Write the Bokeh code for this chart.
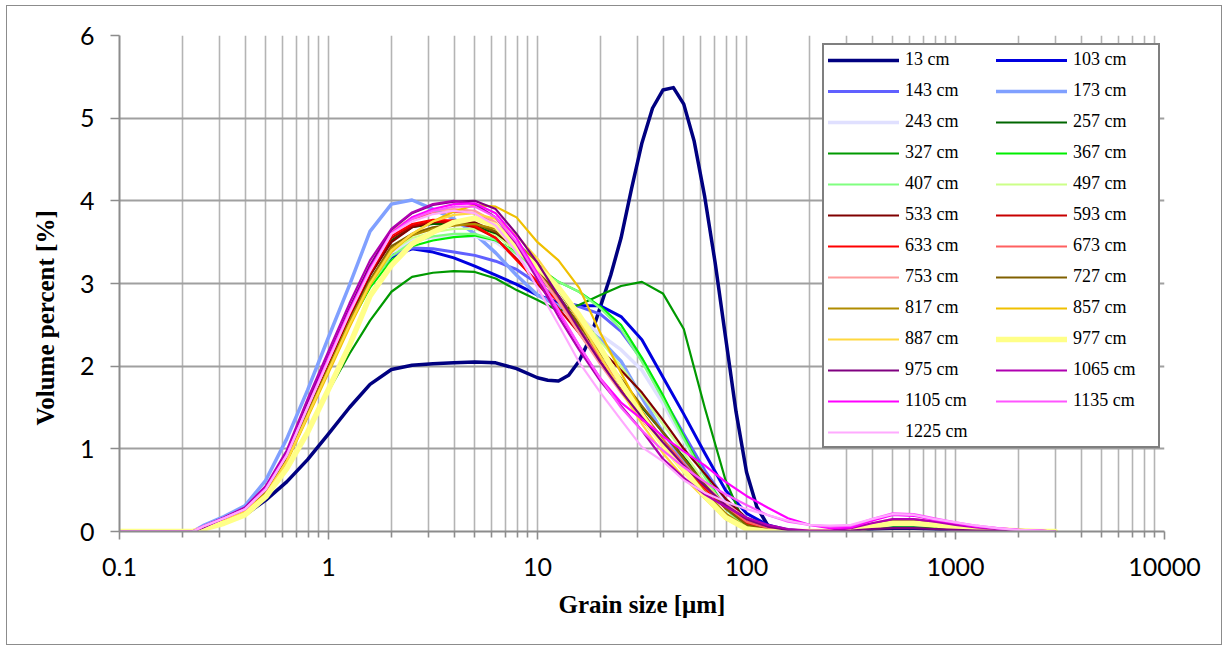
from bokeh.plotting import figure
from bokeh.models import FixedTicker, Legend, LegendItem, Title
from bokeh.embed import file_html
from bokeh.resources import INLINE

# Grain size classes (micrometres)
grain = [0.1, 0.2, 0.224, 0.251, 0.316, 0.398, 0.501, 0.631, 0.794, 1.0, 1.26, 1.58, 2.0, 2.51, 3.16,
         3.98, 5.01, 6.31, 7.94, 10, 12.6, 15.8, 20, 25.1, 31.6, 39.8, 50.1, 63.1, 79.4, 100, 126, 158,
         200, 251, 316, 398, 501, 631, 794, 1000, 1260, 1580, 2000, 2510, 3000]
# finer classes read for the 13 cm sample (sharp coarse-silt peak)
grain13 = [0.1, 0.2, 0.224, 0.251, 0.316, 0.398, 0.501, 0.631, 0.794, 1.0, 1.26, 1.58, 2.0, 2.51, 3.16,
           3.98, 5.01, 6.31, 7.94, 10, 11.2, 12.6, 14.1, 15.8, 17.8, 20, 22.4, 25.1, 28.2, 31.6, 35.5,
           39.8, 44.7, 50.1, 56.2, 63.1, 70.8, 79.4, 89.1, 100, 112, 126, 141, 158, 200, 251, 316, 398,
           501, 631, 794, 1000, 1260, 1580, 2000, 2510, 3000]

s13 = [0, 0, 0, 0.04, 0.11, 0.2, 0.38, 0.6, 0.87, 1.18, 1.5, 1.78, 1.96, 2.01, 2.03, 2.04, 2.05, 2.04, 1.97, 1.86, 1.83, 1.82, 1.89, 2.06, 2.33, 2.72, 3.1, 3.55, 4.15, 4.7, 5.12, 5.34, 5.37, 5.17, 4.72, 4.05, 3.25, 2.35, 1.45, 0.72, 0.3, 0.08, 0.02, 0.01, 0, 0, 0.01, 0.03, 0.04, 0.04, 0.03, 0.02, 0.01, 0.01, 0, 0, 0]
s103 = [0, 0, 0, 0.05, 0.15, 0.26, 0.48, 0.88, 1.45, 2.0, 2.55, 3.02, 3.32, 3.42, 3.38, 3.31, 3.21, 3.1, 2.99, 2.86, 2.77, 2.73, 2.73, 2.6, 2.32, 1.87, 1.42, 0.95, 0.5, 0.22, 0.08, 0.02, 0, 0, 0.02, 0.05, 0.07, 0.07, 0.05, 0.03, 0.02, 0.01, 0, 0, 0]
s143 = [0, 0, 0, 0.05, 0.15, 0.26, 0.48, 0.88, 1.45, 2.0, 2.56, 3.04, 3.34, 3.43, 3.42, 3.38, 3.34, 3.27, 3.17, 3.0, 2.8, 2.72, 2.63, 2.42, 2.08, 1.62, 1.18, 0.74, 0.38, 0.16, 0.05, 0.01, 0, 0, 0.02, 0.05, 0.07, 0.07, 0.05, 0.03, 0.02, 0.01, 0, 0, 0]
s173 = [0, 0, 0, 0.07, 0.18, 0.31, 0.62, 1.12, 1.71, 2.35, 2.98, 3.63, 3.96, 4.01, 3.9, 3.78, 3.6, 3.37, 3.1, 2.86, 2.73, 2.53, 2.32, 2.06, 1.62, 1.2, 0.85, 0.55, 0.3, 0.12, 0.04, 0.01, 0, 0, 0.02, 0.05, 0.07, 0.07, 0.05, 0.03, 0.02, 0.01, 0, 0, 0]
s243 = [0, 0, 0, 0.05, 0.14, 0.25, 0.47, 0.86, 1.42, 1.97, 2.52, 3.0, 3.38, 3.52, 3.56, 3.58, 3.57, 3.5, 3.33, 3.1, 2.85, 2.6, 2.38, 2.2, 1.95, 1.55, 1.1, 0.68, 0.33, 0.12, 0.04, 0.01, 0, 0, 0.02, 0.07, 0.1, 0.1, 0.08, 0.05, 0.03, 0.02, 0.01, 0, 0]
s257 = [0, 0, 0, 0.05, 0.15, 0.26, 0.49, 0.9, 1.48, 2.04, 2.6, 3.1, 3.52, 3.68, 3.72, 3.72, 3.7, 3.6, 3.4, 3.12, 2.8, 2.45, 2.1, 1.8, 1.5, 1.2, 0.9, 0.6, 0.3, 0.1, 0.03, 0.01, 0, 0, 0.03, 0.09, 0.14, 0.14, 0.11, 0.07, 0.05, 0.03, 0.01, 0, 0]
s327 = [0, 0, 0, 0.04, 0.12, 0.22, 0.42, 0.78, 1.2, 1.7, 2.15, 2.55, 2.9, 3.08, 3.13, 3.15, 3.14, 3.06, 2.92, 2.8, 2.67, 2.74, 2.86, 2.97, 3.02, 2.88, 2.45, 1.5, 0.62, 0.04, 0, 0, 0, 0, 0.01, 0.03, 0.05, 0.05, 0.04, 0.03, 0.02, 0.01, 0, 0, 0]
s367 = [0, 0, 0, 0.04, 0.13, 0.24, 0.45, 0.85, 1.4, 1.95, 2.5, 2.95, 3.28, 3.45, 3.52, 3.56, 3.58, 3.52, 3.38, 3.2, 3.02, 2.9, 2.72, 2.5, 2.1, 1.65, 1.15, 0.68, 0.28, 0.06, 0.01, 0, 0, 0, 0.02, 0.07, 0.11, 0.11, 0.09, 0.06, 0.04, 0.02, 0.01, 0, 0]
s407 = [0, 0, 0, 0.04, 0.13, 0.24, 0.46, 0.86, 1.42, 1.97, 2.52, 2.98, 3.33, 3.5, 3.57, 3.6, 3.6, 3.53, 3.36, 3.17, 3.02, 2.9, 2.7, 2.45, 2.05, 1.6, 1.12, 0.66, 0.27, 0.05, 0.01, 0, 0, 0, 0.02, 0.07, 0.11, 0.11, 0.09, 0.06, 0.04, 0.02, 0.01, 0, 0]
s497 = [0, 0, 0, 0.04, 0.13, 0.24, 0.46, 0.86, 1.43, 1.98, 2.55, 3.02, 3.4, 3.55, 3.62, 3.66, 3.66, 3.58, 3.4, 3.18, 2.92, 2.62, 2.3, 2.0, 1.65, 1.3, 0.95, 0.6, 0.3, 0.1, 0.02, 0, 0, 0, 0.02, 0.07, 0.11, 0.11, 0.09, 0.06, 0.04, 0.02, 0.01, 0, 0]
s533 = [0, 0, 0, 0.05, 0.15, 0.26, 0.49, 0.9, 1.48, 2.04, 2.6, 3.1, 3.5, 3.68, 3.74, 3.76, 3.74, 3.62, 3.42, 3.15, 2.85, 2.5, 2.2, 1.95, 1.68, 1.35, 1.0, 0.7, 0.4, 0.16, 0.05, 0.01, 0, 0, 0.03, 0.08, 0.12, 0.12, 0.1, 0.06, 0.04, 0.02, 0.01, 0, 0]
s593 = [0, 0, 0, 0.05, 0.15, 0.27, 0.5, 0.91, 1.5, 2.06, 2.62, 3.12, 3.55, 3.7, 3.75, 3.73, 3.68, 3.55, 3.3, 3.0, 2.7, 2.4, 2.05, 1.72, 1.4, 1.1, 0.8, 0.55, 0.3, 0.12, 0.04, 0.01, 0, 0, 0.03, 0.08, 0.12, 0.12, 0.1, 0.06, 0.04, 0.02, 0.01, 0, 0]
s633 = [0, 0, 0, 0.05, 0.15, 0.27, 0.5, 0.91, 1.5, 2.06, 2.63, 3.14, 3.58, 3.72, 3.77, 3.76, 3.7, 3.55, 3.28, 3.02, 2.78, 2.45, 2.05, 1.7, 1.35, 1.05, 0.78, 0.52, 0.28, 0.1, 0.03, 0.01, 0, 0, 0.03, 0.08, 0.12, 0.12, 0.1, 0.06, 0.04, 0.02, 0.01, 0, 0]
s673 = [0, 0, 0, 0.05, 0.16, 0.27, 0.5, 0.92, 1.51, 2.08, 2.65, 3.16, 3.6, 3.78, 3.85, 3.87, 3.85, 3.72, 3.47, 3.15, 2.8, 2.45, 2.1, 1.78, 1.45, 1.12, 0.82, 0.55, 0.3, 0.12, 0.04, 0.01, 0, 0, 0.03, 0.09, 0.14, 0.14, 0.11, 0.07, 0.05, 0.03, 0.01, 0, 0]
s753 = [0, 0, 0, 0.06, 0.16, 0.27, 0.5, 0.92, 1.51, 2.08, 2.66, 3.17, 3.63, 3.8, 3.88, 3.9, 3.88, 3.74, 3.48, 3.14, 2.78, 2.4, 2.02, 1.68, 1.36, 1.06, 0.8, 0.56, 0.34, 0.16, 0.06, 0.02, 0.01, 0.01, 0.03, 0.1, 0.15, 0.15, 0.12, 0.08, 0.05, 0.03, 0.01, 0, 0]
s727 = [0, 0, 0, 0.04, 0.14, 0.25, 0.47, 0.87, 1.43, 1.98, 2.54, 3.04, 3.45, 3.6, 3.68, 3.72, 3.72, 3.63, 3.45, 3.18, 2.85, 2.5, 2.15, 1.85, 1.52, 1.2, 0.88, 0.57, 0.28, 0.08, 0.02, 0, 0, 0, 0.03, 0.09, 0.14, 0.14, 0.11, 0.07, 0.05, 0.03, 0.01, 0, 0]
s817 = [0, 0, 0, 0.04, 0.14, 0.25, 0.47, 0.86, 1.42, 1.97, 2.53, 3.02, 3.42, 3.58, 3.66, 3.7, 3.72, 3.66, 3.5, 3.25, 2.92, 2.55, 2.18, 1.82, 1.45, 1.1, 0.78, 0.48, 0.22, 0.05, 0.01, 0, 0, 0, 0.02, 0.06, 0.1, 0.1, 0.08, 0.05, 0.03, 0.02, 0.01, 0, 0]
s857 = [0, 0, 0, 0.04, 0.13, 0.24, 0.45, 0.84, 1.38, 1.92, 2.47, 2.98, 3.38, 3.6, 3.75, 3.87, 3.95, 3.93, 3.8, 3.5, 3.28, 2.95, 2.4, 1.92, 1.45, 1.02, 0.72, 0.43, 0.15, 0.03, 0, 0, 0, 0, 0.02, 0.06, 0.1, 0.1, 0.08, 0.05, 0.03, 0.02, 0.01, 0, 0]
s887 = [0, 0, 0, 0.04, 0.13, 0.24, 0.45, 0.85, 1.4, 1.95, 2.5, 3.0, 3.4, 3.6, 3.75, 3.83, 3.85, 3.78, 3.58, 3.3, 2.95, 2.55, 2.12, 1.7, 1.3, 0.95, 0.65, 0.4, 0.15, 0.03, 0, 0, 0, 0, 0.02, 0.06, 0.1, 0.1, 0.08, 0.05, 0.03, 0.02, 0.01, 0, 0]
s977 = [0, 0, 0, 0.03, 0.1, 0.2, 0.42, 0.76, 1.2, 1.72, 2.25, 2.85, 3.22, 3.48, 3.62, 3.74, 3.79, 3.7, 3.42, 3.2, 2.95, 2.62, 2.22, 1.8, 1.4, 1.05, 0.75, 0.43, 0.17, 0.03, 0, 0, 0, 0, 0.02, 0.06, 0.1, 0.1, 0.08, 0.05, 0.03, 0.02, 0.01, 0, 0]
s975 = [0, 0, 0, 0.05, 0.16, 0.28, 0.52, 0.95, 1.56, 2.12, 2.7, 3.22, 3.65, 3.85, 3.95, 3.99, 4.0, 3.9, 3.6, 3.25, 2.85, 2.45, 2.05, 1.7, 1.38, 1.08, 0.8, 0.55, 0.32, 0.15, 0.06, 0.02, 0, 0, 0.01, 0.03, 0.04, 0.04, 0.03, 0.02, 0.01, 0.01, 0, 0, 0]
s1065 = [0, 0, 0, 0.06, 0.17, 0.29, 0.55, 0.98, 1.6, 2.18, 2.76, 3.28, 3.66, 3.86, 3.96, 4.0, 3.96, 3.8, 3.48, 3.05, 2.6, 2.2, 1.82, 1.52, 1.22, 0.88, 0.65, 0.45, 0.3, 0.17, 0.08, 0.03, 0.01, 0.01, 0.04, 0.1, 0.15, 0.15, 0.12, 0.08, 0.05, 0.03, 0.02, 0.01, 0]
s1105 = [0, 0, 0, 0.06, 0.16, 0.27, 0.52, 0.93, 1.51, 2.1, 2.67, 3.18, 3.61, 3.8, 3.9, 3.96, 3.97, 3.85, 3.55, 3.12, 2.65, 2.25, 1.85, 1.56, 1.36, 1.15, 0.97, 0.8, 0.6, 0.43, 0.29, 0.16, 0.08, 0.04, 0.05, 0.13, 0.2, 0.19, 0.14, 0.1, 0.06, 0.04, 0.02, 0.01, 0]
s1135 = [0, 0, 0, 0.06, 0.16, 0.27, 0.51, 0.92, 1.5, 2.08, 2.65, 3.16, 3.6, 3.78, 3.88, 3.93, 3.93, 3.8, 3.5, 3.1, 2.68, 2.25, 1.85, 1.5, 1.22, 0.98, 0.78, 0.6, 0.45, 0.32, 0.2, 0.12, 0.08, 0.06, 0.07, 0.15, 0.22, 0.21, 0.16, 0.11, 0.07, 0.04, 0.02, 0.01, 0]
s1225 = [0, 0, 0, 0.06, 0.16, 0.27, 0.51, 0.92, 1.5, 2.07, 2.64, 3.15, 3.6, 3.75, 3.84, 3.88, 3.85, 3.7, 3.38, 2.95, 2.5, 2.05, 1.68, 1.35, 1.02, 0.85, 0.62, 0.47, 0.36, 0.27, 0.2, 0.13, 0.08, 0.07, 0.08, 0.15, 0.21, 0.2, 0.15, 0.11, 0.07, 0.04, 0.02, 0.01, 0]

labels = ["13 cm", "103 cm", "143 cm", "173 cm", "243 cm", "257 cm", "327 cm", "367 cm", "407 cm",
          "497 cm", "533 cm", "593 cm", "633 cm", "673 cm", "753 cm", "727 cm", "817 cm", "857 cm",
          "887 cm", "977 cm", "975 cm", "1065 cm", "1105 cm", "1135 cm", "1225 cm"]
series = [s13, s103, s143, s173, s243, s257, s327, s367, s407, s497, s533, s593, s633, s673, s753,
          s727, s817, s857, s887, s977, s975, s1065, s1105, s1135, s1225]
xs = [grain13] + [grain] * (len(series) - 1)
colors = ["#000080", "#0000e0", "#6060ff", "#80a0ff", "#e0e0ff", "#006600", "#009900", "#00ee00",
          "#80ff80", "#ccff88", "#800000", "#c80000", "#ff0000", "#ff6060", "#ff9c9c", "#806000",
          "#b08c00", "#f0c000", "#ffd840", "#ffff88", "#800080", "#b000b0", "#ff00ff", "#ff55ff",
          "#ffaaff"]
widths = [3.5, 3, 3, 3.5, 3.5, 2.2, 2.2, 2.2, 2.2, 2.2, 2.2, 2.2, 2.2, 2.2, 2.2, 2.2, 2.2, 2.2,
          2.2, 5.5, 2.2, 2.2, 2.2, 2.2, 2.2]

x_major = [0.1, 1, 10, 100, 1000, 10000]
x_labels = ["0.1", "1", "10", "100", "1000", "10000"]
y_major = [0, 1, 2, 3, 4, 5, 6]
x_title = "Grain size [μm]"
y_title = "Volume percent [%]"

p = figure(width=1216, height=640, x_axis_type="log", x_range=(0.1, 10000), y_range=(0, 6),
           output_backend="svg", toolbar_location=None,
           min_border_left=112, min_border_right=59, min_border_top=29, min_border_bottom=115)
p.styles = {"border": "1px solid #8c8c8c", "margin-left": "6px", "margin-top": "5px"}
p.outline_line_color = None
p.background_fill_color = "white"
p.border_fill_color = "white"

minor = [m * t for t in x_major[:-1] for m in range(2, 10)]
xt = FixedTicker(ticks=x_major, minor_ticks=minor)
p.xaxis.ticker = xt
p.xgrid.ticker = xt
p.yaxis.ticker = FixedTicker(ticks=y_major)
p.ygrid.ticker = FixedTicker(ticks=y_major)
p.xaxis.major_label_overrides = {t: s for t, s in zip(x_major, x_labels)}

p.xgrid.grid_line_color = "#b4b4b4"
p.xgrid.grid_line_width = 1.6
p.xgrid.minor_grid_line_color = "#b4b4b4"
p.xgrid.minor_grid_line_width = 1.6
p.ygrid.grid_line_color = "#a0a0a0"
p.ygrid.grid_line_width = 1.8

for ax in (p.xaxis[0], p.yaxis[0]):
    ax.axis_line_color = "#8c8c8c"
    ax.axis_line_width = 2
    ax.major_tick_line_color = "#8c8c8c"
    ax.major_tick_line_width = 1.6
    ax.major_tick_in = 0
    ax.major_label_text_font = "Lato"
    ax.major_label_text_font_size = "25px"
    ax.major_label_text_color = "black"
    ax.axis_label_text_font = "Liberation Serif"
    ax.axis_label_text_font_style = "bold"
    ax.axis_label_text_font_size = "25px"
    ax.axis_label_text_color = "black"

p.xaxis.major_tick_out = 8
p.xaxis.minor_tick_out = 6
p.xaxis.minor_tick_in = 0
p.xaxis.minor_tick_line_color = "#8c8c8c"
p.xaxis.minor_tick_line_width = 1.6
p.yaxis.major_tick_out = 9
p.yaxis.minor_tick_line_color = None
p.xaxis.major_label_standoff = 18
p.yaxis.major_label_standoff = 16
p.xaxis.axis_label = x_title
p.xaxis.axis_label_standoff = 12

# y-axis title as a side title, placed (like the original) somewhat below the frame's middle
ytitle = Title(text=y_title, align="left", offset=106, vertical_align="bottom", standoff=36,
               text_font="Liberation Serif", text_font_style="bold", text_font_size="25px",
               text_color="black")
p.add_layout(ytitle, "left")

items = []
for lab, gx, ys, c, w in zip(labels, xs, series, colors, widths):
    r = p.line(gx, ys, line_color=c, line_width=w, line_join="round", line_cap="round")
    items.append(LegendItem(label=lab, renderers=[r]))

legend = Legend(items=items, orientation="horizontal", ncols=2, location=(703, 83),
                padding=4, spacing=10, glyph_width=71, glyph_height=20, label_height=20,
                label_standoff=6, label_width=81,
                label_text_font="Liberation Serif", label_text_font_size="18px",
                label_text_color="black",
                border_line_color="black", border_line_width=2,
                background_fill_color="white", background_fill_alpha=1.0)
p.add_layout(legend, "center")

open("out.html", "w").write(file_html(p, INLINE))
